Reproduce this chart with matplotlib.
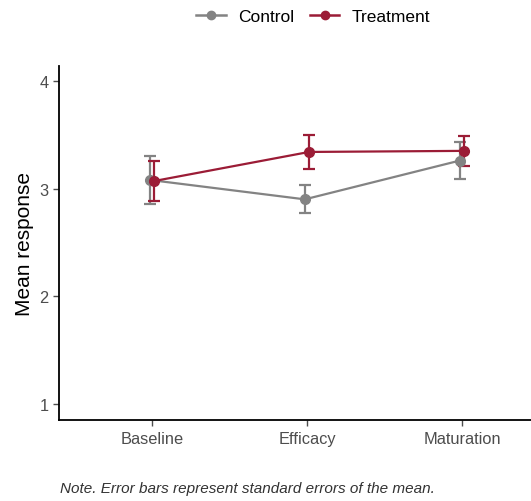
import matplotlib.pyplot as plt
from matplotlib.lines import Line2D
import numpy as np

plt.rcParams['font.family'] = ['Liberation Sans', 'DejaVu Sans']

phases = ['Baseline', 'Efficacy', 'Maturation']
control_mean = [3.08, 2.90, 3.26]
control_se = [0.22, 0.13, 0.17]
treatment_mean = [3.07, 3.34, 3.35]
treatment_se = [0.19, 0.16, 0.14]

grey = '#838383'
red = '#9b1c36'

fig = plt.figure(figsize=(5.31, 5.02), dpi=100)
ax = fig.add_axes([0.111, 0.161, 0.889, 0.706])

x = np.arange(1, len(phases) + 1)
dodge = 0.014
handles = []
for means, ses, col, name, off in [(control_mean, control_se, grey, 'Control', -dodge),
                                   (treatment_mean, treatment_se, red, 'Treatment', dodge)]:
    ax.errorbar(x + off, means, yerr=ses, color=col, marker='o', markersize=7,
                linewidth=1.6, elinewidth=1.6, capsize=4, capthick=1.6)
    handles.append(Line2D([], [], color=col, marker='o', markersize=6,
                          linewidth=1.8, label=name))

ax.set_xlim(0.4, 3.445)
ax.set_ylim(0.85, 4.14)
ax.set_xticks(x)
ax.set_xticklabels(phases)
ax.set_yticks([1, 2, 3, 4])
ax.set_ylabel('Mean response', fontsize=15, color='black', labelpad=4)

for side in ['top', 'right']:
    ax.spines[side].set_visible(False)
for side in ['left', 'bottom']:
    ax.spines[side].set_linewidth(1.3)
ax.tick_params(axis='both', colors='#4d4d4d', labelsize=11.8, length=4, width=1)

fig.legend(handles=handles, loc='center', bbox_to_anchor=(0.59, 0.966), ncol=2,
           frameon=False, fontsize=12.5, handlelength=1.7, columnspacing=0.9,
           handletextpad=0.7)

fig.text(0.113, 0.018, 'Note. Error bars represent standard errors of the mean.',
         fontsize=11, style='italic', color='#333333')

fig.savefig('out.png', dpi=100)
